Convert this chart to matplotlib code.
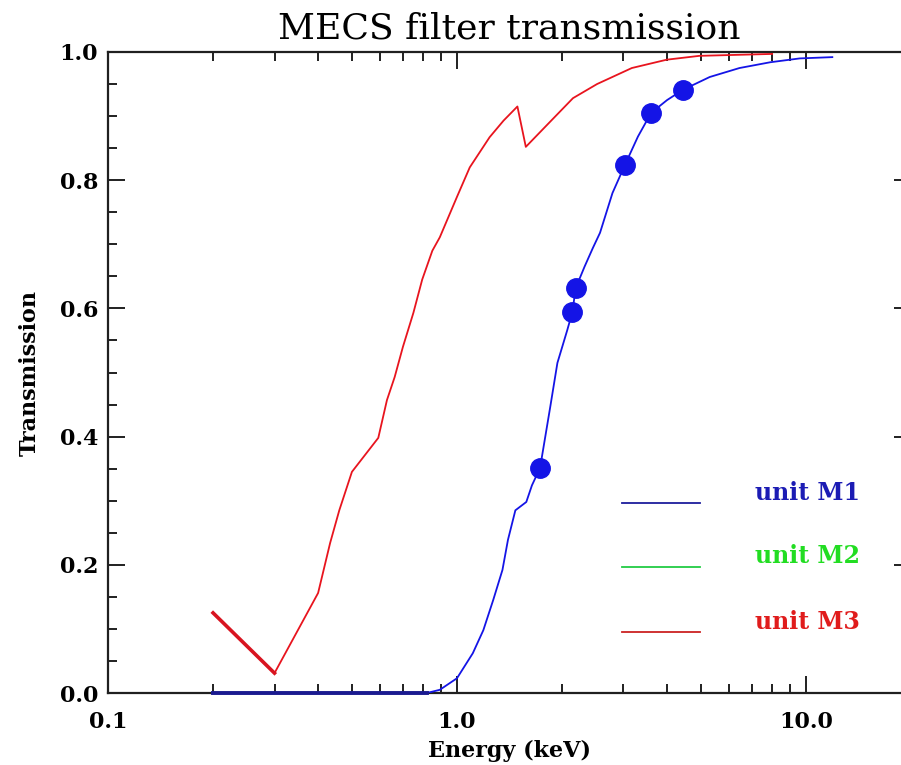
import numpy as np
import matplotlib
matplotlib.use("Agg")
import matplotlib.pyplot as plt
from matplotlib.ticker import FixedLocator, NullFormatter

# courbe M1 (bleu)
m1_energie = [0.2, 0.82, 0.893, 1.0, 1.11, 1.19, 1.27, 1.35, 1.40, 1.47, 1.58, 1.64,
              1.73, 1.85, 1.94, 2.07, 2.14, 2.19, 2.32, 2.45, 2.57, 2.79, 3.03, 3.3, 3.6, 4.0,
              4.44, 5.3, 6.45, 7.9, 9.6, 11.9]
m1_trans = [0.0, 0.0, 0.005, 0.023, 0.062, 0.098, 0.145, 0.192, 0.239, 0.285, 0.298, 0.324,
            0.351, 0.446, 0.515, 0.566, 0.594, 0.632, 0.665, 0.694, 0.718, 0.78, 0.824, 0.868, 0.905, 0.925,
            0.941, 0.961, 0.975, 0.984, 0.99, 0.992]

# points mesures M1
pts_energie = [1.73, 2.14, 2.19, 3.03, 3.6, 4.44]
pts_trans = [0.351, 0.594, 0.632, 0.824, 0.905, 0.941]

# courbe M3 (rouge)
m3_energie = [0.2, 0.3, 0.40, 0.433, 0.46, 0.50, 0.595, 0.63, 0.663, 0.70, 0.75, 0.795,
              0.85, 0.893, 1.0, 1.088, 1.24, 1.36, 1.49, 1.575, 1.81, 2.15, 2.52, 3.17, 3.99,
              4.95, 8.0]
m3_trans = [0.125, 0.031, 0.156, 0.234, 0.285, 0.345, 0.398, 0.457, 0.493, 0.54, 0.593, 0.645,
            0.69, 0.711, 0.774, 0.82, 0.867, 0.893, 0.915, 0.852, 0.886, 0.928, 0.95, 0.975, 0.988,
            0.994, 0.997]

unites = ["unit M1", "unit M2", "unit M3"]
coul_texte = ["#1c1cb4", "#22dd22", "#e01c1c"]
coul_ligne = ["#1c1c9c", "#22cc44", "#cc2222"]

bleu = "#1414e6"
rouge = "#e8141e"

fig = plt.figure(figsize=(9.01, 7.65), dpi=100)
ax = fig.add_axes([108/901, 72/765, 803/901, 641/765])

ax.plot(m3_energie, m3_trans, color=rouge, lw=1.3, zorder=3)
ax.plot(m3_energie[:2], m3_trans[:2], color="#d81420", lw=2.6, zorder=3)

ax.plot(m1_energie, m1_trans, color=bleu, lw=1.3, zorder=4)
ax.plot(m1_energie[:2], m1_trans[:2], color="#1a1a90", lw=2.8, zorder=4, clip_on=False)
ax.plot(pts_energie, pts_trans, 'o', color=bleu, ms=14, mec=bleu, zorder=5)

ax.set_xscale("log")
ax.set_xlim(0.1, 20)
ax.set_ylim(0, 1)

ax.xaxis.set_major_locator(FixedLocator([0.1, 1.0, 10.0]))
ax.set_xticklabels(["0.1", "1.0", "10.0"])
mineurs = [k * 0.1 for k in range(2, 10)] + [float(k) for k in range(2, 10)]
ax.xaxis.set_minor_locator(FixedLocator(mineurs))
ax.xaxis.set_minor_formatter(NullFormatter())

ax.set_yticks(np.arange(0, 1.01, 0.2))
ax.set_yticklabels(["0.0", "0.2", "0.4", "0.6", "0.8", "1.0"])
ax.yaxis.set_minor_locator(FixedLocator(np.arange(0, 1.001, 0.05)))

police = "DejaVu Serif"
ax.tick_params(which="both", direction="in", top=True, right=True, width=1.4, color="#202020")
ax.tick_params(which="major", length=12)
ax.tick_params(which="minor", length=6.5)
ax.tick_params(axis="x", pad=13)
ax.tick_params(axis="y", pad=7)
for lab in ax.get_xticklabels() + ax.get_yticklabels():
    lab.set_family(police)
    lab.set_fontweight("bold")
    lab.set_fontsize(16)

for s in ax.spines.values():
    s.set_linewidth(1.6)
    s.set_color("#202020")

ax.set_title("MECS filter transmission", family=police, fontsize=26, pad=10)
ax.set_xlabel("Energy (keV)", family=police, fontweight="bold", fontsize=16, labelpad=5)
ax.set_ylabel("Transmission", family=police, fontweight="bold", fontsize=16, labelpad=14)

# legende faite a la main
ys_ligne = [0.296, 0.197, 0.095]
for i in range(3):
    ax.plot([0.640, 0.737], [ys_ligne[i], ys_ligne[i]], color=coul_ligne[i], lw=1.3,
            transform=ax.transAxes)
    ax.text(0.806, ys_ligne[i] + 0.016, unites[i], color=coul_texte[i], family=police,
            fontweight="bold", fontsize=17, va="center", ha="left", transform=ax.transAxes)

fig.savefig("out.png", dpi=100)
